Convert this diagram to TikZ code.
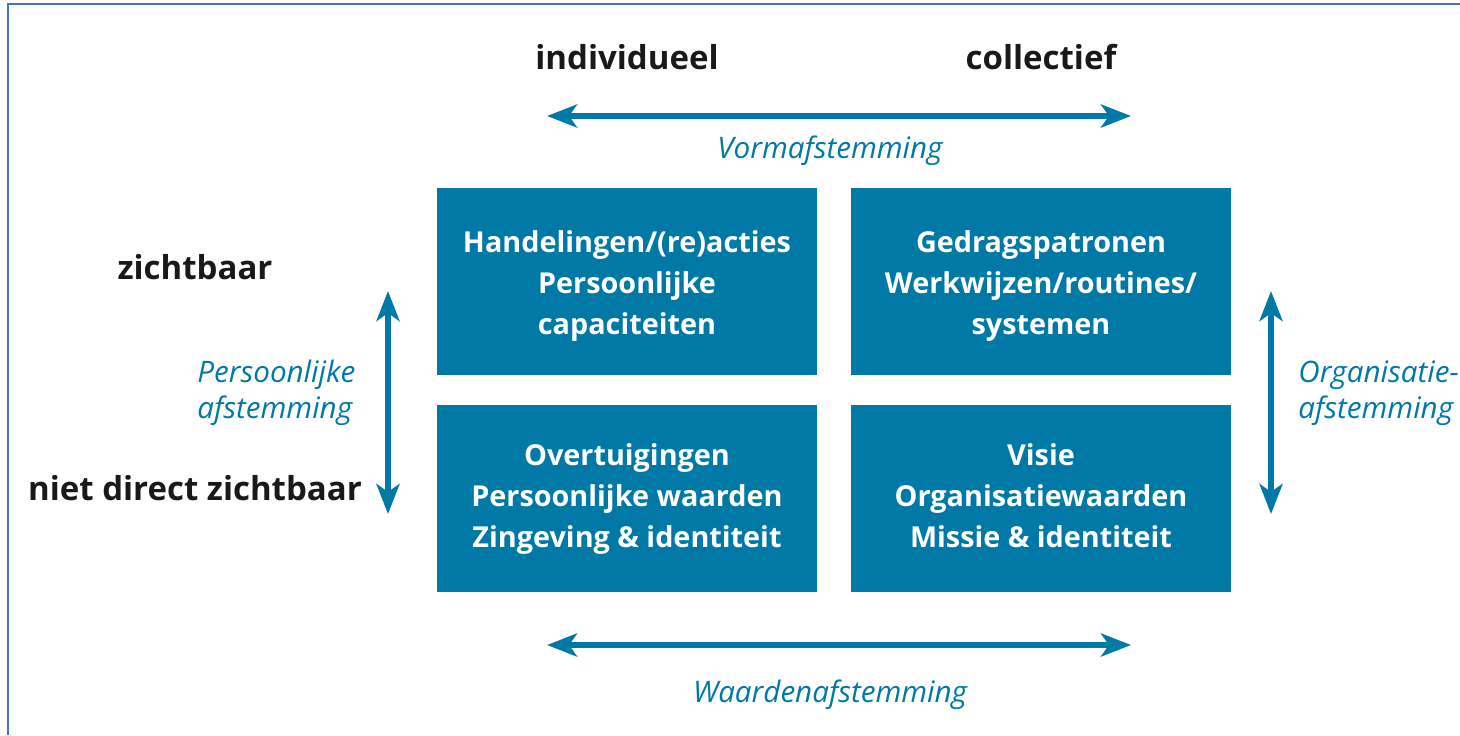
\documentclass[tikz,border=0pt]{standalone}
\usepackage{fontspec}
\setmainfont{Open Sans}
\usetikzlibrary{arrows.meta}
\definecolor{boxblue}{RGB}{0,121,166}
\definecolor{frameblue}{RGB}{68,114,196}
\newcommand{\tallstrut}{\rule{0pt}{18.4pt}}
\begin{document}
\begin{tikzpicture}[x=0.5pt,y=-0.5pt,
  quad/.style={fill=boxblue,draw=none,minimum width=190pt,minimum height=93.5pt,inner sep=0pt,
    text=white,font=\fontsize{14.4}{20.5}\selectfont\bfseries,align=center},
  axislabel/.style={font=\fontsize{16.5}{20}\selectfont\bfseries,text=black!90,inner sep=0pt},
  sidelabel/.style={font=\fontsize{14.8}{18}\selectfont\itshape,text=boxblue,inner sep=0pt},
  dblarrow/.style={draw=boxblue,line width=3pt,{Stealth[length=15pt,width=11.5pt,inset=4pt]}-{Stealth[length=15pt,width=11.5pt,inset=4pt]}}
]
\useasboundingbox (0,0) rectangle (1460,735);
\coordinate (fbl) at (8,735);
\coordinate (ftl) at (8,4);
\coordinate (ftr) at (1460,4);
\draw[frameblue,line width=1.2pt] (fbl) -- (ftl) -- (ftr);

\node[quad] (q1) at (627,281.5) {\tallstrut Handelingen/(re)acties\\Persoonlijke\\capaciteiten\strut};
\node[quad] (q2) at (1041,281.5) {\tallstrut Gedragspatronen\\Werkwijzen/routines/\\systemen\strut};
\node[quad] (q3) at (627,498) {\strut Overtuigingen\\Persoonlijke waarden\\Zingeving \& identiteit\strut};
\node[quad] (q4) at (1041,498) {\strut Visie\\Organisatiewaarden\\Missie \& identiteit\strut};

\node[axislabel] (ind) at (627,57) {individueel};
\node[axislabel] (col) at (1041,57) {collectief};
\node[axislabel] (zb) at (195,267) {zichtbaar};
\node[axislabel] (nzb) at (195,488) {niet direct zichtbaar};

\node[sidelabel] (vorm) at (830,151) {Vormafstemming};
\node[sidelabel] (waard) at (830,695) {Waardenafstemming};
\node[sidelabel,align=left,anchor=west] (pers) at (197,393) {Persoonlijke\\afstemming};
\node[sidelabel,align=left,anchor=west] (org) at (1298,393) {Organisatie-\\afstemming};

\coordinate (ta) at (547,116);
\coordinate (tb) at (1131,116);
\coordinate (ba) at (547,645);
\coordinate (bb) at (1131,645);
\coordinate (la) at (388,291);
\coordinate (lb) at (388,514);
\coordinate (ra) at (1271,291);
\coordinate (rb) at (1271,514);
\draw[dblarrow] (ta) -- (tb);
\draw[dblarrow] (ba) -- (bb);
\draw[dblarrow] (la) -- (lb);
\draw[dblarrow] (ra) -- (rb);
\end{tikzpicture}
\end{document}
